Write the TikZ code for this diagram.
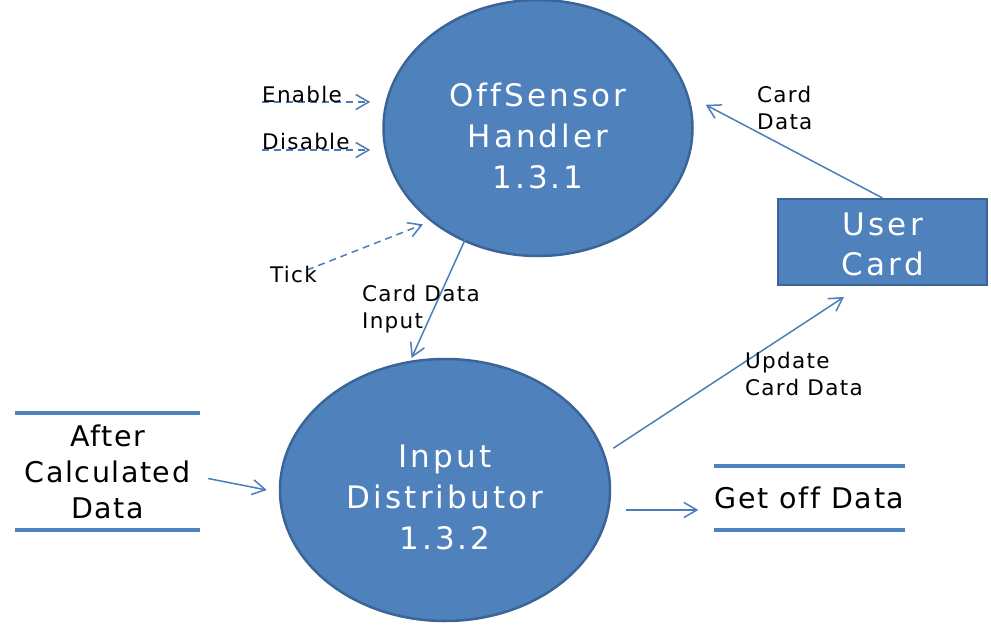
\documentclass[tikz,border=0pt]{standalone}
\usepackage{fontspec}
\setmainfont{DejaVu Sans}[Ligatures=NoCommon]
\usetikzlibrary{shapes.geometric,arrows.meta,calc}
\definecolor{procfill}{HTML}{4F81BD}
\definecolor{procedge}{HTML}{3A6596}
\definecolor{flowcol}{HTML}{4A7EBB}
\definecolor{storecol}{HTML}{4F81BD}
\newcommand{\bigfont}{\addfontfeature{LetterSpace=10}\fontsize{31}{41}\selectfont}
\newcommand{\lowered}[2]{\raisebox{-#1}[\height][\depth]{\begin{tabular}{@{}c@{}}#2\end{tabular}}}
\tikzset{
  proc/.style={ellipse,fill=procfill,draw=procedge,line width=2.5pt,inner sep=0pt,
    text=white,align=center,font=\bigfont},
  entity/.style={rectangle,fill=procfill,draw=procedge,line width=2pt,inner sep=0pt,
    text=white,align=center,font={\addfontfeature{LetterSpace=11}\fontsize{31}{40}\selectfont}},
  store/.style={rectangle,inner sep=0pt,align=center},
  storeline/.style={draw=storecol,line width=4pt},
  flow/.style={draw=flowcol,line width=1.5pt,-{Straight Barb[length=13pt,width=15pt,line width=1.5pt]}},
  ctlflow/.style={flow,dash pattern=on 7pt off 5pt},
  lbl/.style={inner sep=0pt,anchor=west,align=left,
    font={\addfontfeature{LetterSpace=6}\fontsize{21.5}{27}\selectfont}}
}
\begin{document}
\begin{tikzpicture}[x=1pt,y=-1pt]
\useasboundingbox (0,0) rectangle (991,626);
% processes
\node[proc,minimum width=309pt,minimum height=256pt] (h) at (538,128)
  {\lowered{11pt}{OffSensor\\Handler\\1.3.1}};
\node[proc,minimum width=330pt,minimum height=262pt] (d) at (445,490)
  {\lowered{10pt}{Input\\Distributor\\1.3.2}};
% entity
\node[entity,minimum width=209pt,minimum height=86pt] (uc) at (882.5,242)
  {\lowered{5pt}{User\\Card}};
% stores
\node[store,minimum width=185pt,minimum height=117pt,
  font={\addfontfeature{LetterSpace=5.5}\fontsize{28.5}{36}\selectfont}] (ac) at (107.5,471.5)
  {After\\Calculated\\Data};
\draw[storeline] (ac.north west) -- (ac.north east);
\draw[storeline] (ac.south west) -- (ac.south east);
\node[store,minimum width=187pt,minimum height=64pt,
  font={\addfontfeature{LetterSpace=6}\fontsize{28.5}{36}\selectfont}] (gd) at (809.5,498)
  {Get off Data};
\draw[storeline] (gd.north west) -- (gd.north east);
\draw[storeline] (gd.south west) -- (gd.south east);
% free ends
\coordinate (en) at (262,102);
\coordinate (dis) at (262,150);
\coordinate (tk) at (307,270);
% flows
\draw[ctlflow,shorten >=12pt] (en) -- (en -| h.west);
\draw[ctlflow,shorten >=12pt] (dis) -- (dis -| h.west);
\draw[ctlflow,shorten >=8pt] (tk) -- (h.221);
\draw[flow,shorten <=-6pt,shorten >=3pt] (h.237) -- (d.105);
\draw[flow,shorten >=19pt] (uc.north) -- (h.12);
\draw[flow] ([xshift=12pt,yshift=-3pt]d.16) -- ([xshift=67pt,yshift=-11pt]uc.south west);
\draw[flow] ([xshift=8pt,yshift=-7pt]ac.east) -- ([xshift=-12pt]d.west);
\draw[flow] ([xshift=15pt,yshift=-20pt]d.east) -- ([xshift=-16pt,yshift=-12pt]gd.west);
% labels
\node[lbl] (lEn) at (262,94) {Enable};
\node[lbl] (lDis) at (262,141) {Disable};
\node[lbl] (lTk) at (270,274) {Tick};
\node[lbl] (lCdi) at (362,309.5) {Card Data\\Input};
\node[lbl] (lCd) at (757,107.5) {Card\\Data};
\node[lbl] (lUp) at (745,373.5) {Update\\Card Data};
\end{tikzpicture}
\end{document}
